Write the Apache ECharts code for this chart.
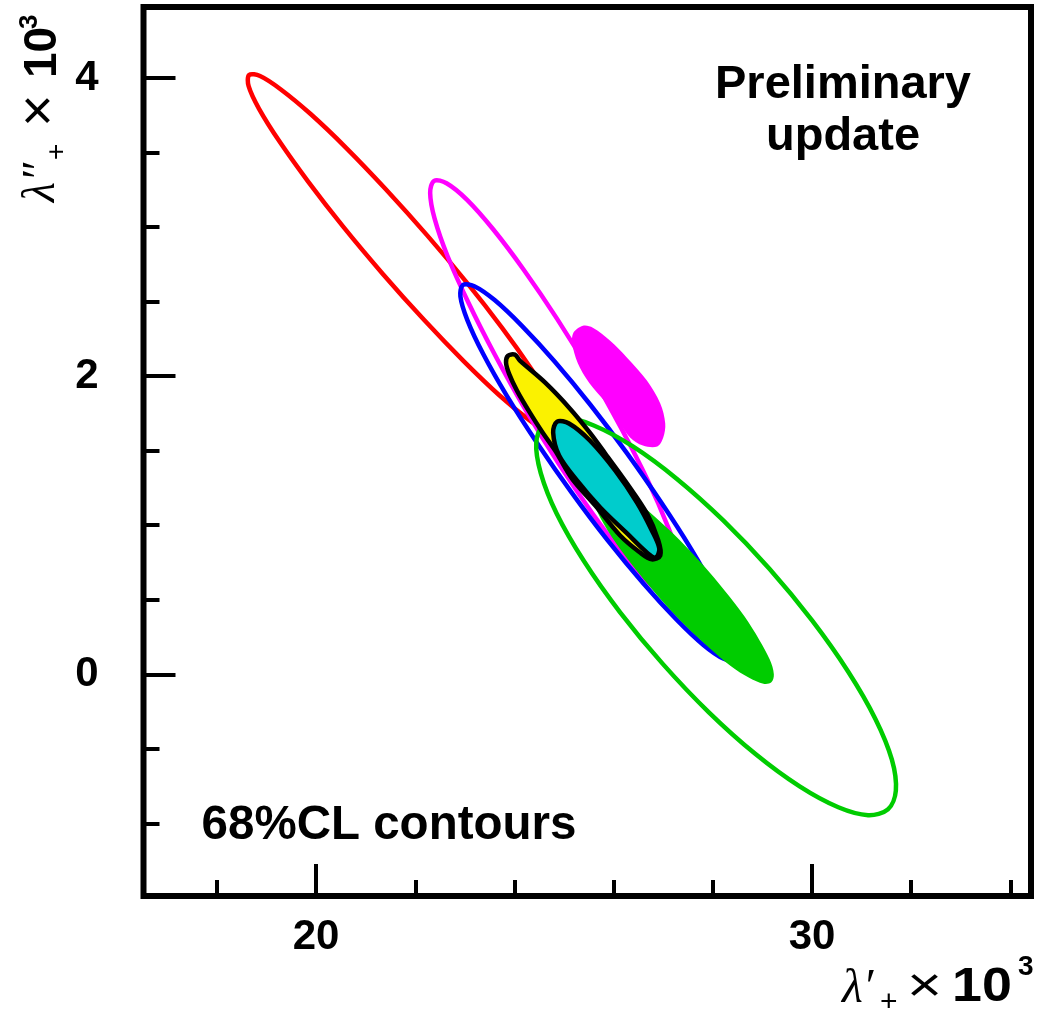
<!DOCTYPE html>
<html><head><meta charset="utf-8">
<script src="https://cdn.jsdelivr.net/npm/echarts@6/dist/echarts.min.js"></script>
<style>html,body{margin:0;padding:0;background:#fff}#c{width:1038px;height:1015px}</style>
</head><body><div id="c"></div>
<script>
// ---- axis ticks / labels ----
const xMajorTicks = [20, 30];
const xMinorTicks = [18, 22, 24, 26, 28, 32, 34];
const yMajorTicks = [0, 2, 4];
const yMinorTicks = [-1, -0.5, 0.5, 1, 1.5, 2.5, 3, 3.5];

// ---- 68% CL contours: [lambda'_+ x10^3, lambda''_+ x10^3] ----
const redContour = [[24.94,1.608],[24.72,1.615],[24.30,1.705],[23.70,1.870],[22.98,2.099],[22.18,2.376],[21.35,2.684],[20.55,3.001],[19.84,3.305],[19.26,3.575],[18.85,3.793],[18.64,3.945],[18.65,4.020],[18.87,4.013],[19.29,3.923],[19.89,3.758],[20.61,3.530],[21.41,3.252],[22.24,2.944],[23.04,2.627],[23.75,2.324],[24.33,2.053],[24.74,1.835],[24.95,1.683]];
const magentaContour = [[27.38,0.482],[27.13,0.498],[26.72,0.609],[26.19,0.807],[25.57,1.080],[24.90,1.408],[24.23,1.770],[23.61,2.140],[23.07,2.494],[22.65,2.806],[22.39,3.057],[22.30,3.229],[22.38,3.310],[22.63,3.294],[23.04,3.184],[23.57,2.985],[24.19,2.712],[24.86,2.384],[25.53,2.022],[26.15,1.652],[26.69,1.299],[27.10,0.986],[27.37,0.735],[27.46,0.563]];
const blueContour = [[28.46,0.096],[28.22,0.104],[27.81,0.197],[27.26,0.370],[26.60,0.609],[25.88,0.898],[25.15,1.220],[24.46,1.550],[23.85,1.866],[23.37,2.148],[23.05,2.376],[22.91,2.534],[22.96,2.611],[23.19,2.603],[23.60,2.510],[24.15,2.337],[24.81,2.098],[25.53,1.808],[26.26,1.487],[26.95,1.157],[27.56,0.841],[28.04,0.559],[28.36,0.331],[28.51,0.173]];
const greenContour = [[31.53,-0.906],[31.13,-0.945],[30.53,-0.892],[29.75,-0.752],[28.86,-0.535],[27.92,-0.255],[26.99,0.070],[26.13,0.416],[25.40,0.760],[24.85,1.079],[24.53,1.350],[24.44,1.557],[24.60,1.683],[25.00,1.722],[25.60,1.669],[26.38,1.530],[27.27,1.312],[28.21,1.032],[29.14,0.708],[30.00,0.361],[30.73,0.017],[31.28,-0.301],[31.61,-0.573],[31.69,-0.780]];
const magentaFilled = [[25.38,2.338],[25.58,2.325],[25.93,2.238],[26.27,2.124],[26.67,1.970],[26.94,1.816],[27.04,1.682],[27.00,1.588],[26.88,1.528],[26.59,1.534],[26.33,1.588],[26.13,1.682],[25.93,1.789],[25.58,1.923],[25.32,2.057],[25.18,2.191],[25.18,2.285]];
const greenFilled = [[29.18,-0.054],[29.02,-0.063],[28.74,-0.025],[28.36,0.056],[27.93,0.176],[27.45,0.325],[26.97,0.495],[26.52,0.672],[26.12,0.846],[25.81,1.004],[25.61,1.136],[25.53,1.232],[25.58,1.287],[25.74,1.296],[26.02,1.258],[26.39,1.177],[26.83,1.057],[27.31,0.908],[27.79,0.738],[28.24,0.561],[28.64,0.387],[28.94,0.229],[29.15,0.097],[29.23,0.001]];
const yellowFilled = [[23.83,2.090],[23.87,2.137],[24.01,2.144],[24.11,2.104],[24.62,1.956],[25.12,1.782],[25.52,1.621],[25.83,1.481],[26.27,1.280],[26.67,1.079],[26.90,0.898],[26.94,0.797],[26.77,0.771],[26.53,0.817],[26.13,0.931],[25.63,1.132],[25.16,1.313],[24.82,1.501],[24.58,1.615],[24.31,1.755],[24.05,1.903],[23.89,2.017]];
const cyanFilled = [[24.78,1.621],[24.86,1.695],[25.10,1.682],[25.52,1.568],[26.03,1.367],[26.47,1.152],[26.77,0.965],[26.92,0.844],[26.85,0.784],[26.69,0.811],[26.27,0.945],[25.73,1.119],[25.26,1.300],[24.90,1.467]];

const X_MIN = 16.52, X_MAX = 34.415, Y_MIN = -1.487, Y_MAX = 4.476;
const SANS = '"Liberation Sans", Arial, Helvetica, sans-serif';
const SERIF = '"Liberation Serif", "DejaVu Serif", serif';

function contourSeries(name, pts, style, z) {
  return {
    type: 'custom', name: name, coordinateSystem: 'cartesian2d',
    xAxisIndex: 0, yAxisIndex: 0, z: z, silent: true, animation: false,
    data: pts,
    renderItem: function (params, api) {
      if (params.dataIndex !== 0) return null;
      const p = pts.map(function (d) { return api.coord(d); });
      return {
        type: 'polygon',
        shape: { points: p, smooth: 0.33 },
        style: { fill: style.fill || 'none', stroke: style.stroke || null, lineWidth: style.lw || 0, lineJoin: 'round' }
      };
    }
  };
}

const tickLine = { color: '#000', width: 4 };
const chart = echarts.init(document.getElementById('c'), null, { renderer: 'canvas' });
chart.setOption({
  backgroundColor: '#fff',
  animation: false,
  grid: { left: 143.5, top: 7, right: 7, bottom: 119, show: true, borderWidth: 6, borderColor: '#000', backgroundColor: 'transparent' },
  xAxis: [
    { type: 'value', min: X_MIN, max: X_MAX, position: 'bottom',
      axisLine: { show: false, onZero: false }, splitLine: { show: false },
      axisTick: { show: true, inside: true, length: 32, lineStyle: tickLine, customValues: xMajorTicks },
      axisLabel: { customValues: xMajorTicks, margin: 20, fontSize: 42, fontWeight: 'bold', fontFamily: SANS, color: '#000' } },
    { type: 'value', min: X_MIN, max: X_MAX, position: 'bottom',
      axisLine: { show: false, onZero: false }, splitLine: { show: false },
      axisTick: { show: true, inside: true, length: 16, lineStyle: tickLine, customValues: xMinorTicks },
      axisLabel: { show: false } }
  ],
  yAxis: [
    { type: 'value', min: Y_MIN, max: Y_MAX, position: 'left',
      axisLine: { show: false, onZero: false }, splitLine: { show: false },
      axisTick: { show: true, inside: true, length: 32, lineStyle: tickLine, customValues: yMajorTicks },
      axisLabel: { customValues: yMajorTicks, margin: 45, fontSize: 42, fontWeight: 'bold', fontFamily: SANS, color: '#000' } },
    { type: 'value', min: Y_MIN, max: Y_MAX, position: 'left',
      axisLine: { show: false, onZero: false }, splitLine: { show: false },
      axisTick: { show: true, inside: true, length: 16, lineStyle: tickLine, customValues: yMinorTicks },
      axisLabel: { show: false } }
  ],
  series: [
    contourSeries('red', redContour, { stroke: '#ff0000', lw: 4.5 }, 2),
    contourSeries('magenta', magentaContour, { stroke: '#ff00ff', lw: 4.5 }, 3),
    contourSeries('blue', blueContour, { stroke: '#0000ff', lw: 4.5 }, 4),
    contourSeries('green', greenContour, { stroke: '#00cc00', lw: 4.5 }, 5),
    contourSeries('magentaFill', magentaFilled, { fill: '#ff00ff' }, 6),
    contourSeries('greenFill', greenFilled, { fill: '#00cc00' }, 7),
    contourSeries('yellow', yellowFilled, { fill: '#fbf200', stroke: '#000', lw: 4.5 }, 8),
    contourSeries('cyan', cyanFilled, { fill: '#00cccc', stroke: '#000', lw: 4.5 }, 9)
  ],
  graphic: [
    { type: 'text', x: 843, y: 85, style: { text: 'Preliminary', font: 'bold 47px ' + SANS, fill: '#000', align: 'center', verticalAlign: 'middle' } },
    { type: 'text', x: 843, y: 137, style: { text: 'update', font: 'bold 47px ' + SANS, fill: '#000', align: 'center', verticalAlign: 'middle' } },
    { type: 'text', x: 389, y: 826, style: { text: '68%CL contours', font: 'bold 47.5px ' + SANS, fill: '#000', align: 'center', verticalAlign: 'middle' } },
    // x axis title
    { type: 'group', x: 0, y: 0, children: [
      { type: 'text', x: 842, y: 989, style: { text: 'λ′', font: 'italic 48px ' + SERIF, fill: '#000', align: 'left', verticalAlign: 'middle' } },
      { type: 'text', x: 880, y: 1003, style: { text: '+', font: '30px ' + SANS, fill: '#000', align: 'left', verticalAlign: 'middle' } },
      { type: 'text', x: 907, y: 988, scaleX: 1.25, style: { text: '×', font: '48px ' + SANS, fill: '#000', align: 'left', verticalAlign: 'middle' } },
      { type: 'text', x: 952, y: 988, scaleX: 1.12, style: { text: '10', font: 'bold 48px ' + SANS, fill: '#000', align: 'left', verticalAlign: 'middle' } },
      { type: 'text', x: 1018, y: 967, style: { text: '3', font: 'bold 28px ' + SANS, fill: '#000', align: 'left', verticalAlign: 'middle' } }
    ]},
    // y axis title (rotated)
    { type: 'group', x: 57, y: 202, rotation: Math.PI / 2, children: [
      { type: 'text', x: 0, y: -15, style: { text: 'λ″', font: 'italic 46px ' + SERIF, fill: '#000', align: 'left', verticalAlign: 'middle' } },
      { type: 'text', x: 42, y: 0, style: { text: '+', font: '28px ' + SANS, fill: '#000', align: 'left', verticalAlign: 'middle' } },
      { type: 'text', x: 75, y: -16, style: { text: '×', font: '56px ' + SANS, fill: '#000', align: 'left', verticalAlign: 'middle' } },
      { type: 'text', x: 124, y: -14, style: { text: '10', font: 'bold 46px ' + SANS, fill: '#000', align: 'left', verticalAlign: 'middle' } },
      { type: 'text', x: 173, y: -27, style: { text: '3', font: 'bold 26px ' + SANS, fill: '#000', align: 'left', verticalAlign: 'middle' } }
    ]}
  ]
});
</script>
</body></html>
